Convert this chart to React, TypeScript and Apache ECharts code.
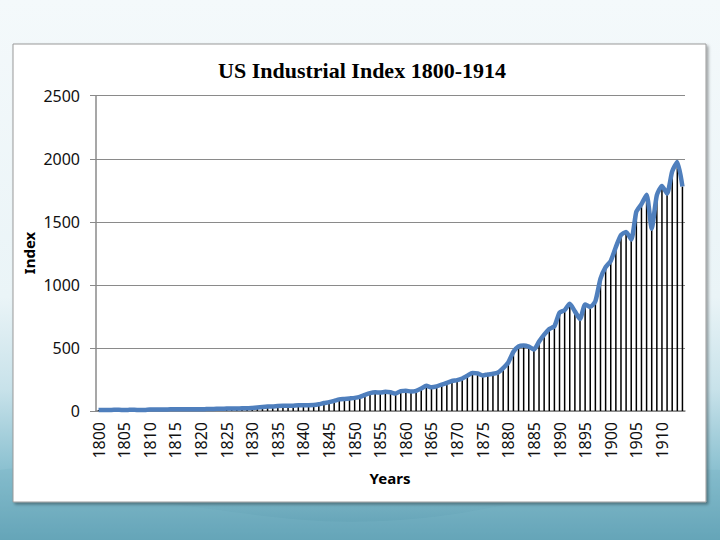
import React, { useEffect, useRef } from "react";
import * as echarts from "echarts";

const years: string[] = [];
for (let y = 1800; y <= 1914; y++) years.push(String(y));

const index1800s = [7, 8, 8, 9, 9, 8, 9, 10, 7, 8];
const index1810s = [11, 12, 12, 12, 13, 13, 13, 14, 14, 14];
const index1820s = [14, 15, 16, 17, 18, 19, 20, 20, 21, 21];
const index1830s = [24, 28, 32, 35, 36, 40, 42, 41, 42, 45];
const index1840s = [45, 46, 48, 54, 63, 70, 80, 92, 96, 100];
const index1850s = [104, 112, 128, 142, 148, 146, 152, 148, 138, 158];
const index1860s = [160, 155, 160, 178, 200, 188, 195, 210, 222, 238];
const index1870s = [245, 258, 280, 302, 298, 282, 290, 295, 305, 340];
const index1880s = [385, 470, 512, 520, 510, 488, 550, 605, 650, 672];
const index1890s = [780, 800, 850, 790, 730, 845, 825, 870, 1050, 1140];
const index1900s = [1190, 1300, 1395, 1420, 1360, 1580, 1640, 1715, 1445, 1710];
const index1910s = [1785, 1725, 1900, 1975, 1780];

const indexValues = [
  ...index1800s, ...index1810s, ...index1820s, ...index1830s, ...index1840s,
  ...index1850s, ...index1860s, ...index1870s, ...index1880s, ...index1890s,
  ...index1900s, ...index1910s,
];

const yTicks = [0, 500, 1000, 1500, 2000, 2500];

export default function App() {
  const ref = useRef<HTMLDivElement>(null);
  useEffect(() => {
    if (!ref.current) return;
    const chart = echarts.init(ref.current, undefined, { renderer: "svg" });
    const font = "'Noto Sans', 'Open Sans', Arial, sans-serif";
    chart.setOption({
      animation: false,
      backgroundColor: new echarts.graphic.LinearGradient(0, 0, 0, 1, [
        { offset: 0, color: "#f4f9fb" },
        { offset: 0.55, color: "#eaf4f7" },
        { offset: 0.72, color: "#c8e2ea" },
        { offset: 0.86, color: "#8fc3d2" },
        { offset: 1, color: "#5b9db1" },
      ]),
      graphic: [
        {
          type: "polygon",
          z: -2,
          shape: {
            points: [[0, 470], [180, 505], [400, 520], [720, 470], [720, 540], [0, 540]],
            smooth: 0.4,
          },
          style: { fill: "rgba(120,180,198,0.35)" },
          silent: true,
        },
        {
          type: "rect",
          z: -1,
          shape: { x: 13, y: 44, width: 693, height: 458 },
          style: {
            fill: "#ffffff",
            stroke: "#9a9a9a",
            lineWidth: 1,
            shadowBlur: 3,
            shadowOffsetX: 2,
            shadowOffsetY: 2,
            shadowColor: "rgba(0,0,0,0.35)",
          },
          silent: true,
        },
        {
          type: "text",
          z: 5,
          x: 29,
          y: 253,
          rotation: Math.PI / 2,
          style: {
            text: "Index",
            font: `bold 15px ${font}`,
            fill: "#000",
            align: "center",
            verticalAlign: "middle",
          },
        },
        {
          type: "text",
          z: 5,
          x: 390,
          y: 478,
          style: {
            text: "Years",
            font: `bold 15px ${font}`,
            fill: "#000",
            align: "center",
            verticalAlign: "middle",
          },
        },
      ],
      title: {
        text: "US Industrial Index 1800-1914",
        left: 357,
        top: 54,
        textAlign: "center",
        textStyle: {
          fontFamily: "'Liberation Serif', 'Times New Roman', serif",
          fontWeight: "bold",
          fontSize: 22,
          color: "#000",
        },
      },
      grid: { left: 96, right: 35, top: 95.7, bottom: 129, containLabel: false },
      xAxis: {
        type: "category",
        data: years,
        boundaryGap: true,
        axisLine: { show: true, lineStyle: { color: "#8a8a8a", width: 1.5 } },
        axisTick: { show: false },
        axisLabel: {
          interval: 4,
          rotate: 90,
          margin: 11,
          fontFamily: font,
          fontSize: 16,
          color: "#111",
        },
        splitLine: { show: false },
      },
      yAxis: {
        type: "value",
        min: yTicks[0],
        max: yTicks[yTicks.length - 1],
        interval: 500,
        axisLine: { show: true, lineStyle: { color: "#8a8a8a", width: 1.5 } },
        axisTick: { show: true, length: 6, lineStyle: { color: "#8a8a8a" } },
        axisLabel: {
          margin: 16,
          fontFamily: font,
          fontSize: 16,
          color: "#111",
          formatter: (v: number) => String(v),
        },
        splitLine: { show: true, lineStyle: { color: "#8a8a8a", width: 1 } },
      },
      series: [
        {
          type: "bar",
          data: indexValues,
          barWidth: 1.5,
          itemStyle: { color: "#000000" },
          silent: true,
          z: 2,
        },
        {
          type: "line",
          data: indexValues,
          smooth: 0.2,
          symbol: "none",
          lineStyle: { color: "#4f7fbd", width: 4.5 },
          z: 3,
        },
      ],
    });
    return () => chart.dispose();
  }, []);
  return (
    <div
      ref={ref}
      style={{ position: "absolute", left: 0, top: 0, width: 720, height: 540 }}
    />
  );
}
